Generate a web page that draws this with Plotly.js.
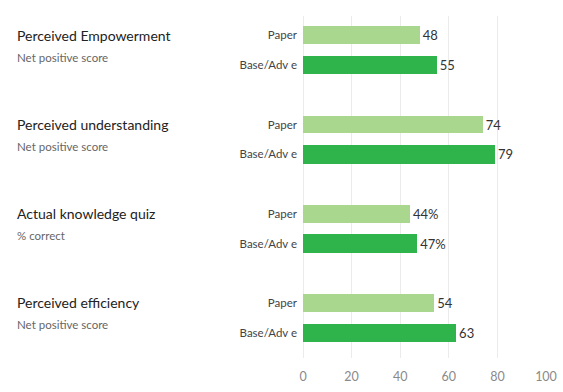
<!DOCTYPE html>
<html><head><meta charset="utf-8">
<script src="https://cdn.plot.ly/plotly-3.0.1.min.js"></script>
<style>html,body{margin:0;padding:0;background:#fff}#chart{width:563px;height:392px}</style>
</head><body><div id="chart"></div>
<script>
const groupTitles = ["Perceived Empowerment", "Perceived understanding", "Actual knowledge quiz", "Perceived efficiency"];
const groupSubtitles = ["Net positive score", "Net positive score", "% correct", "Net positive score"];
const seriesNames = ["Paper", "Base/Adv e"];
const paperValues = [48, 74, 44, 54];
const baseValues = [55, 79, 47, 63];
const valueSuffix = ["", "", "%", ""];
const xTicks = [0, 20, 40, 60, 80, 100];

const FONT = "Lato, 'Open Sans', sans-serif";
const step = 3;
const paperPos = groupTitles.map((_, i) => i * step);
const basePos = groupTitles.map((_, i) => i * step + 1);

const traces = [
  {type: 'bar', orientation: 'h', x: paperValues, y: paperPos, width: 0.6,
   marker: {color: '#a9d78e'}, name: seriesNames[0],
   text: paperValues.map((v, i) => v + valueSuffix[i]), textposition: 'outside',
   textfont: {family: FONT, size: 13, color: '#333'}, cliponaxis: false, hoverinfo: 'none'},
  {type: 'bar', orientation: 'h', x: baseValues, y: basePos, width: 0.62,
   marker: {color: '#2fb34b'}, name: seriesNames[1],
   text: baseValues.map((v, i) => v + valueSuffix[i]), textposition: 'outside',
   textfont: {family: FONT, size: 13, color: '#333'}, cliponaxis: false, hoverinfo: 'none'}
];

const annotations = [];
groupTitles.forEach((t, i) => {
  annotations.push({xref: 'paper', yref: 'y', x: -1.185, y: paperPos[i], xanchor: 'left', yanchor: 'middle',
    text: t, showarrow: false, font: {family: FONT, size: 14, color: '#222'}});
  annotations.push({xref: 'paper', yref: 'y', x: -1.185, y: paperPos[i] + 0.73, xanchor: 'left', yanchor: 'middle',
    text: groupSubtitles[i], showarrow: false, font: {family: FONT, size: 11.5, color: '#666'}});
});

const layout = {
  width: 563, height: 392,
  margin: {l: 303, r: 17, t: 16, b: 34},
  paper_bgcolor: '#fff', plot_bgcolor: '#fff',
  showlegend: false,
  xaxis: {range: [0, 100], tickvals: xTicks, ticktext: xTicks.map(String), showgrid: true,
    gridcolor: '#ebebeb', gridwidth: 1, zeroline: true, zerolinecolor: '#ebebeb', zerolinewidth: 1,
    showline: false, ticks: '', ticklabelstandoff: 9, tickfont: {family: FONT, size: 12.5, color: '#8a8a8a'}, fixedrange: true},
  yaxis: {range: [10.85, -0.65], tickvals: paperPos.concat(basePos),
    ticktext: paperPos.map(() => seriesNames[0]).concat(basePos.map(() => seriesNames[1])),
    showgrid: false, zeroline: false, showline: false, ticks: '', ticklabelstandoff: 5,
    tickfont: {family: FONT, size: 11.5, color: '#444'}, fixedrange: true},
  annotations: annotations,
  bargap: 0
};
Plotly.newPlot('chart', traces, layout, {displayModeBar: false, staticPlot: true});
</script></body></html>
